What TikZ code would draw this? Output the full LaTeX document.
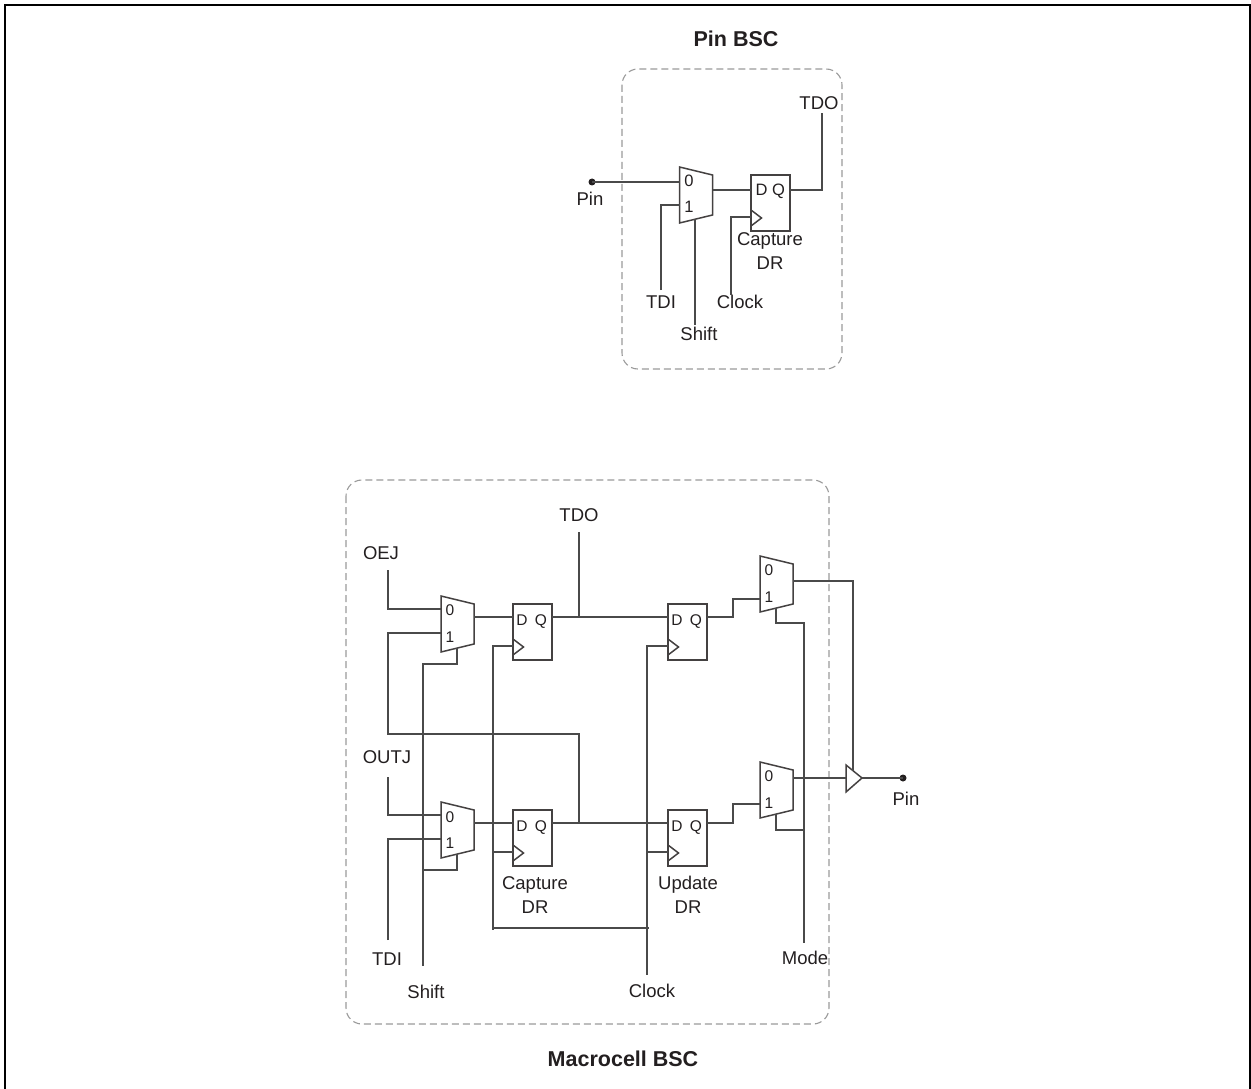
\documentclass[tikz,border=0pt]{standalone}
\usepackage{fontspec}
\setmainfont{Liberation Sans}
\definecolor{ink}{HTML}{231F20}
\definecolor{wirec}{HTML}{4A4A4A}
\definecolor{dashc}{HTML}{9A9A9A}
\tikzset{
  wire/.style={draw=wirec,line width=1.05pt,line join=miter},
  part/.style={draw=ink!85,line width=1.5pt,line join=miter},
  ffbox/.style={part,rectangle,inner sep=0pt,outer sep=0pt,minimum width=39pt,minimum height=56pt},
  boundary/.style={draw=dashc,line width=1.1pt,dash pattern=on 7pt off 4pt,rounded corners=16pt},
  lab/.style={text=ink,font=\fontsize{18.5}{18.5}\selectfont,inner sep=0pt,align=center},
  pinlab/.style={text=ink,font=\fontsize{15.5}{15.5}\selectfont,inner sep=0pt,text height=11pt,text depth=0pt},
  biglab/.style={text=ink,font=\fontsize{16.5}{16.5}\selectfont,inner sep=0pt,text height=12pt,text depth=0pt},
  title/.style={text=ink,font=\bfseries\fontsize{21.5}{21.5}\selectfont,inner sep=0pt},
  dotc/.style={circle,fill=ink,draw=none,minimum size=7pt,inner sep=0pt}
}
% \muxshape{name}{left x}{top y}{in0 dy}{in1 dy}{out dy}
\newcommand{\muxshape}[6]{%
  \draw[part] (#2,#3) -- (#2+33,#3+8) -- (#2+33,#3+48) -- (#2,#3+56) -- cycle;
  \coordinate (#1-a) at (#2,#3+#4);
  \coordinate (#1-b) at (#2,#3+#5);
  \coordinate (#1-o) at (#2+33,#3+#6);
  \coordinate (#1-s) at (#2+16,#3+52);
}
% \ffshape{name}{left x}{top y}{D and Q dy}
\newcommand{\ffshape}[4]{%
  \node[ffbox,anchor=north west] (#1) at (#2,#3) {};
  \draw[part] (#2,#3+35) -- (#2+10.5,#3+43) -- (#2,#3+51);
  \coordinate (#1-d) at (#2,#3+#4);
  \coordinate (#1-q) at (#2+39,#3+#4);
  \coordinate (#1-c) at (#2,#3+42);
}
\begin{document}
\begin{tikzpicture}[x=1pt,y=-1pt]
\useasboundingbox (0,0) rectangle (1251,1089);
% outer frame, open at the bottom
\draw[line width=2pt,black] (5,1089) -- (5,5) -- (1250,5) -- (1250,1089);

% ---------- Pin BSC ----------
\node[title] (ttlpin) at (736,39) {Pin BSC};
\draw[boundary] (622,69) rectangle (842,369);
\muxshape{pm}{679.5}{167}{15}{38}{23}
\ffshape{pf}{751}{175}{15}
\node[biglab] (pm0) at (689,180) {0};
\node[biglab] (pm1) at (689,206) {1};
\node[biglab] (pfd) at (761.5,190) {D};
\node[biglab] (pfq) at (778.5,190) {Q};
\node[dotc] (pdot) at (592,182) {};
\node[lab] (ppin) at (590,199) {Pin};
\node[lab] (ptdo) at (819,103) {TDO};
\node[lab] (pcap) at (770,241) {Capture};
\node[lab] (pdr) at (770,263) {DR};
\node[lab] (ptdi) at (661,302) {TDI};
\node[lab] (pclk) at (740,302) {Clock};
\node[lab] (pshf) at (699,334) {Shift};
\coordinate (ptdoe) at (822,113);
\coordinate (ptdie) at (661,290);
\coordinate (pclke) at (731,295);
\coordinate (pshfe) at (695,325);
\draw[wire] (pdot.center) -- (pm-a);
\draw[wire] (ptdie) |- (pm-b);
\draw[wire] (pshfe) -- (pshfe |- pm-s);
\draw[wire] (pm-o) -- (pf-d);
\draw[wire] (pclke) |- (pf-c);
\draw[wire] (pf-q) -| (ptdoe);

% ---------- Macrocell BSC ----------
\draw[boundary] (346,480) rectangle (829,1024);
\node[title] (ttlmac) at (623,1059) {Macrocell BSC};
\muxshape{ma}{441}{596}{13}{37}{21}
\muxshape{mb}{441}{802}{13}{37}{21}
\muxshape{mc}{760}{556}{25}{43}{25}
\muxshape{md}{760}{762}{16}{42}{16}
\ffshape{fa}{513}{604}{13}
\ffshape{fb}{513}{810}{13}
\ffshape{fc}{668}{604}{13}
\ffshape{fd}{668}{810}{13}
\foreach \n/\xx/\yy in {fa/522/620,fb/522/826,fc/677/620,fd/677/826}{
  \node[pinlab] (\n dl) at (\xx,\yy) {D};
}
\foreach \n/\xx/\yy in {fa/541/620,fb/541/826,fc/696/620,fd/696/826}{
  \node[pinlab] (\n ql) at (\xx,\yy) {Q};
}
\foreach \n/\xx/\yy in {ma/450/610,mb/450/817,mc/769/570,md/769/776}{
  \node[pinlab] (\n zl) at (\xx,\yy) {0};
}
\foreach \n/\xx/\yy in {ma/450/637,mb/450/843,mc/769/597,md/769/803}{
  \node[pinlab] (\n ol) at (\xx,\yy) {1};
}
\node[lab] (mtdo) at (579,515) {TDO};
\node[lab] (moej) at (381,553) {OEJ};
\node[lab] (moutj) at (387,757) {OUTJ};
\node[lab] (mtdi) at (387,959) {TDI};
\node[lab] (mshf) at (426,992) {Shift};
\node[lab] (mclk) at (652,991) {Clock};
\node[lab] (mmode) at (805,958) {Mode};
\node[lab] (mcap) at (535,885) {Capture};
\node[lab] (mcdr) at (535,907) {DR};
\node[lab] (mupd) at (688,885) {Update};
\node[lab] (mudr) at (688,907) {DR};
\node[lab] (mpin) at (906,799) {Pin};
\node[dotc] (mdot) at (903,778) {};
% tristate driver
\draw[part] (846,765) -- (862,778) -- (846,792) -- cycle;
\coordinate (bufin) at (846,778);
\coordinate (bufout) at (862,778);
\coordinate (bufen) at (853,771);
% free ends
\coordinate (oeje) at (388,570);
\coordinate (outje) at (388,777);
\coordinate (tdie) at (388,940);
\coordinate (shfe) at (423,966);
\coordinate (clke) at (647,975);
\coordinate (modee) at (804,943);
\coordinate (tdoe) at (579,532);
\coordinate (tdoj) at (579,617);
\coordinate (fbj) at (579,823);
\coordinate (clkl) at (493,930);
\coordinate (clkt) at (493,928);
\coordinate (clkr) at (649,928);
% data paths
\draw[wire] (oeje) |- (ma-a);
\draw[wire] (ma-b) -| (388,734) -| (fbj);
\draw[wire] (outje) |- (mb-a);
\draw[wire] (tdie) |- (mb-b);
\draw[wire] (ma-o) -- (fa-d);
\draw[wire] (mb-o) -- (fb-d);
\draw[wire] (fa-q) -- (fc-d);
\draw[wire] (fb-q) -- (fd-d);
\draw[wire] (tdoe) -- (tdoj);
\draw[wire] (fc-q) -| (733,599) -- (mc-b);
\draw[wire] (fd-q) -| (733,804) -- (md-b);
\draw[wire] (mc-o) -| (bufen);
\draw[wire] (md-o) -- (bufin);
\draw[wire] (bufout) -- (mdot.center);
% shift
\draw[wire] (ma-s) -- (457,664) -- (423,664) -- (shfe);
\draw[wire] (mb-s) -- (457,870) -- (423,870);
% clocks
\draw[wire] (fa-c) -| (clkl);
\draw[wire] (fb-c) -- (fb-c -| clkl);
\draw[wire] (fc-c) -| (clke);
\draw[wire] (fd-c) -- (fd-c -| clke);
\draw[wire] (clkt) -- (clkr);
% mode
\draw[wire] (mc-s) -- (776,623) -- (804,623) -- (modee);
\draw[wire] (md-s) -- (776,830) -- (804,830);
\end{tikzpicture}
\end{document}
